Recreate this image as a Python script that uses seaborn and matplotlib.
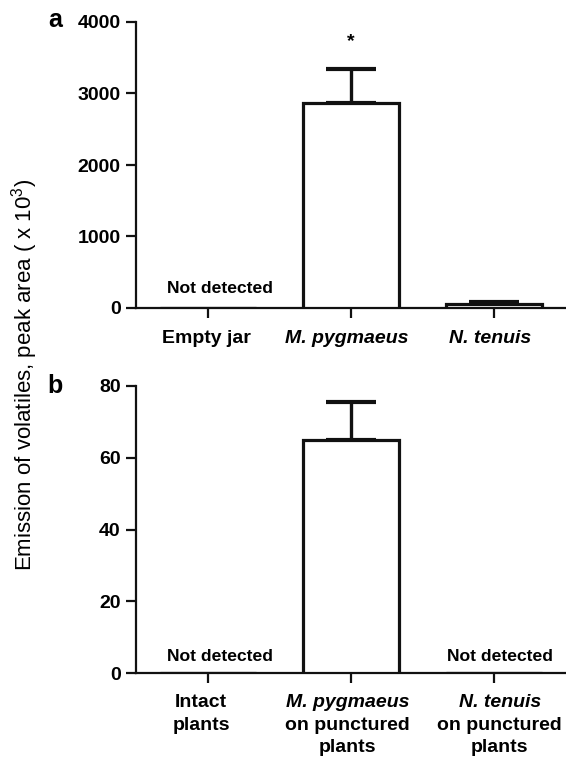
import matplotlib
matplotlib.use("Agg")
import matplotlib.pyplot as plt
import matplotlib.transforms as mtransforms
import seaborn as sns
import pandas as pd
import numpy as np

sns.set_style("ticks")
plt.rcParams['font.family'] = ['Liberation Sans', 'DejaVu Sans']
plt.rcParams['mathtext.fontset'] = 'custom'
plt.rcParams['mathtext.rm'] = 'Liberation Sans'
plt.rcParams['mathtext.it'] = 'Liberation Sans:italic'
for k in ['text.color', 'axes.labelcolor', 'xtick.color', 'ytick.color', 'axes.edgecolor']:
    plt.rcParams[k] = 'black'

# Panel a data
cats_a = ["Empty jar", "M. pygmaeus", "N. tenuis"]
italic_a = [False, True, True]
means_a = [0, 2867, 50]
se_a = [0, 476, 27]
nd_a = [True, False, False]
yticks_a = [0, 1000, 2000, 3000, 4000]

# Panel b data
cats_b = ["Intact plants", "M. pygmaeus on punctured plants", "N. tenuis on punctured plants"]
labels_b = [["Intact", "plants"], ["M. pygmaeus", "on punctured", "plants"], ["N. tenuis", "on punctured", "plants"]]
italic_first_b = [False, True, True]
means_b = [0, 65, 0]
se_b = [0, 10.6, 0]
nd_b = [True, False, True]
yticks_b = [0, 20, 40, 60, 80]

W, H = 566, 758
fig = plt.figure(figsize=(W / 100, H / 100), dpi=100)
ax_a = fig.add_axes([136 / W, 1 - 308 / H, 1 - 136 / W, (308 - 22) / H])
ax_b = fig.add_axes([136 / W, 1 - 673 / H, 1 - 136 / W, (673 - 386) / H])

def draw(ax, cats, means, se, nd, yticks, nd_shift, nd_lift):
    df = pd.DataFrame({"cat": cats, "val": means})
    sns.barplot(data=df, x="cat", y="val", ax=ax, color="white", edgecolor="#111111",
                linewidth=2.3, width=0.67, errorbar=None, zorder=3)
    xs = np.arange(len(cats))
    for x, m, s in zip(xs, means, se):
        if s > 0:
            ax.errorbar([x], [m], yerr=[[0], [s]], fmt="none", ecolor="#111111",
                        elinewidth=2.4, capsize=18, capthick=3.0, zorder=2)
    ax.set_xlim(-0.5, 2.5)
    ax.set_ylim(yticks[0], yticks[-1])
    ax.set_yticks(yticks)
    ax.set_yticklabels([str(t) for t in yticks], fontsize=14, fontweight="bold")
    ax.set_xticks(xs)
    ax.set_xticklabels([""] * len(cats))
    ax.set_xlabel("")
    ax.set_ylabel("")
    for sp in ["top", "right"]:
        ax.spines[sp].set_visible(False)
    for sp in ["left", "bottom"]:
        ax.spines[sp].set_linewidth(1.6)
        ax.spines[sp].set_color("#111111")
    ax.tick_params(axis="both", length=7, width=1.6, color="#111111", pad=4)
    for x, flag in zip(xs, nd):
        if flag:
            t = ax.transData + mtransforms.ScaledTranslation(nd_shift[x] / 100, nd_lift / 100,
                                                             fig.dpi_scale_trans)
            ax.text(x, 0, "Not detected", transform=t, ha="center", va="baseline",
                    fontsize=12.6, fontweight="bold", zorder=5)

draw(ax_a, cats_a, means_a, se_a, nd_a, yticks_a, [12.5, 0, 0], 15)
draw(ax_b, cats_b, means_b, se_b, nd_b, yticks_b, [12.5, 0, 5.5], 12)

# significance star
ax_a.text(1, 3720, "*", ha="center", va="center", fontsize=14, fontweight="bold")

def px_to_axes(ax_top_px, ax_bot_px, y_px):
    return (ax_bot_px - y_px) / (ax_bot_px - ax_top_px)

# x labels panel a
trans_a = mtransforms.blended_transform_factory(ax_a.transData, ax_a.transAxes)
xshift_a = [-0.007, -0.028, -0.03]
for i, (c, it) in enumerate(zip(cats_a, italic_a)):
    ax_a.text(i + xshift_a[i], px_to_axes(22, 308, 343), c, transform=trans_a, ha="center",
              va="baseline", fontsize=14, fontweight="bold",
              fontstyle="italic" if it else "normal")

# x labels panel b
trans_b = mtransforms.blended_transform_factory(ax_b.transData, ax_b.transAxes)
baselines = [707, 729.5, 752]
xshift_b = [-0.045, -0.025, 0.038]
for i, (lines, it) in enumerate(zip(labels_b, italic_first_b)):
    for j, ln in enumerate(lines):
        ax_b.text(i + xshift_b[i], px_to_axes(386, 673, baselines[j]), ln, transform=trans_b,
                  ha="center", va="baseline", fontsize=14, fontweight="bold",
                  fontstyle="italic" if (it and j == 0) else "normal")

# panel letters
fig.text(55 / W, 1 - 20 / H, "a", fontsize=18, fontweight="bold", ha="center", va="center")
fig.text(55 / W, 1 - 386 / H, "b", fontsize=18, fontweight="bold", ha="center", va="center")

# shared y label
fig.text(25 / W, 1 - 375 / H, r"Emission of volatiles, peak area ( x 10$^{3}$)",
         rotation=90, fontsize=16, ha="center", va="center")

fig.savefig("out.png", dpi=100)
